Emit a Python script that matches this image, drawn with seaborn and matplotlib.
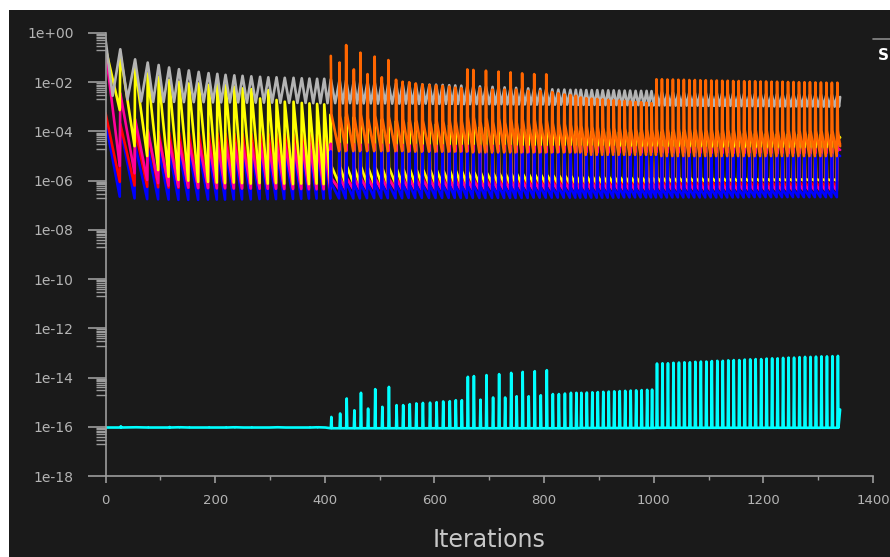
import matplotlib
matplotlib.use("Agg")
import matplotlib.pyplot as plt
from matplotlib.lines import Line2D
from matplotlib.patches import Rectangle
from matplotlib.ticker import FixedLocator, FixedFormatter, MultipleLocator, NullFormatter
import pandas as pd
import seaborn as sns

# first inner iteration of every time step
step_start = [
    0, 27, 54, 77, 97, 116, 134, 152, 170, 188, 204, 219, 235, 250, 266, 282, 297, 312, 327, 343, 358, 372, 386, 399,
    411, 427, 439, 453, 465, 478, 491, 504, 516, 530, 542, 554, 566, 578, 591, 603, 615, 627, 638, 649,
    660, 671, 683, 694, 706, 717, 728, 739, 749, 760, 771, 782, 793, 804, 815, 826, 837, 848, 858,
    867, 877, 887, 897, 907, 917, 927, 937, 947, 957, 967, 977, 987, 996,
    1005, 1015, 1025, 1035, 1045, 1055, 1065, 1075, 1085, 1095, 1105, 1115, 1125, 1135, 1145, 1155, 1165,
    1175, 1185, 1195, 1205, 1215, 1225, 1235, 1245, 1255, 1265, 1275, 1285, 1295, 1305, 1315, 1325, 1335,
]
last_iter = 1340
spiky_from = 24  # from iteration 411 on: orange appears, residuals spike then settle

# iteration where the grey residual bottoms out inside each step
grey_low_iter = [
    13, 40, 65, 87, 106, 125, 143, 161, 179, 196, 211, 227, 242, 258, 274, 289, 304, 319, 335, 350, 365, 379, 392, 405,
    419, 433, 446, 459, 471, 484, 497, 510, 523, 536, 548, 560, 572, 584, 597, 609, 621, 632, 643, 654,
    665, 677, 688, 700, 711, 722, 733, 744, 754, 765, 776, 787, 798, 809, 820, 831, 842, 853, 862,
    872, 882, 892, 902, 912, 922, 932, 942, 952, 962, 972, 982, 991, 1000,
    1010, 1020, 1030, 1040, 1050, 1060, 1070, 1080, 1090, 1100, 1110, 1120, 1130, 1140, 1150, 1160, 1170,
    1180, 1190, 1200, 1210, 1220, 1230, 1240, 1250, 1260, 1270, 1280, 1290, 1300, 1310, 1320, 1330, 1338,
]

# residuals as log10 exponents: at the step start (hi), one iteration later (knee), at the step end (lo)
grey_hi = [
    -0.25, -0.66, -1.07, -1.20, -1.30, -1.40, -1.47, -1.52, -1.58, -1.63, -1.66, -1.70, -1.72, -1.74, -1.76, -1.78,
    -1.80, -1.80, -1.82, -1.82, -1.84, -1.85, -1.86, -1.86,
    -1.88, -1.90, -1.92, -1.94, -1.96, -1.98, -2.00, -2.02, -2.04, -2.05, -2.06, -2.07, -2.08, -2.09, -2.10, -2.10,
    -2.11, -2.12, -2.13, -2.14,
    -2.15, -2.16, -2.17, -2.18, -2.19, -2.20, -2.21, -2.22, -2.23, -2.24, -2.25, -2.26, -2.27, -2.28, -2.29, -2.30,
    -2.30, -2.31, -2.31,
    -2.31, -2.32, -2.32, -2.32, -2.33, -2.33, -2.33, -2.34, -2.34, -2.34, -2.35, -2.35, -2.35, -2.36,
    -2.40, -2.40, -2.41, -2.41, -2.42, -2.42, -2.42, -2.43, -2.43, -2.43, -2.44, -2.44, -2.44, -2.45, -2.45, -2.45,
    -2.46, -2.46, -2.46, -2.47, -2.47, -2.47, -2.48, -2.48, -2.48, -2.49, -2.49, -2.49, -2.50, -2.50, -2.50, -2.50,
    -2.51, -2.51,
]
grey_lo = [
    -2.55, -2.70, -2.78, -2.80, -2.80, -2.80, -2.81, -2.81, -2.81, -2.82, -2.82, -2.82, -2.82, -2.83, -2.83, -2.83,
    -2.83, -2.84, -2.84, -2.84, -2.84, -2.85, -2.85, -2.85,
    -2.85, -2.86, -2.85, -2.86, -2.86, -2.86, -2.87, -2.86, -2.87, -2.87, -2.87, -2.87, -2.88, -2.87, -2.88, -2.88,
    -2.88, -2.88, -2.88, -2.89,
    -2.89, -2.89, -2.89, -2.89, -2.90, -2.89, -2.90, -2.90, -2.90, -2.90, -2.90, -2.91, -2.90, -2.91, -2.91, -2.91,
    -2.91, -2.91, -2.92,
    -2.92, -2.92, -2.92, -2.92, -2.93, -2.92, -2.93, -2.93, -2.93, -2.93, -2.93, -2.93, -2.94, -2.94,
    -2.94, -2.94, -2.94, -2.95, -2.95, -2.95, -2.95, -2.95, -2.96, -2.96, -2.96, -2.96, -2.96, -2.96, -2.97, -2.97,
    -2.97, -2.97, -2.97, -2.97, -2.97, -2.98, -2.98, -2.98, -2.98, -2.98, -2.98, -2.98, -2.98, -2.99, -2.99, -2.99,
    -2.99, -2.99,
]
grey_end = -2.60

yellow_hi = [
    -0.60, -0.83, -1.37, -1.64, -1.78, -1.91, -1.98, -2.05, -2.05, -2.11, -2.05, -2.11, -2.18, -2.25, -2.28, -2.66,
    -2.32, -2.72, -2.79, -2.79, -2.84, -2.86, -2.88, -2.90,
    -3.30, -3.35, -3.40, -3.42, -3.45, -3.48, -3.50, -3.52, -3.55, -3.57, -3.60, -3.62, -3.64, -3.66, -3.68, -3.70,
    -3.72, -3.74, -3.76, -3.78,
    -3.80, -3.81, -3.82, -3.83, -3.84, -3.85, -3.86, -3.87, -3.88, -3.89, -3.90, -3.91, -3.92, -3.93, -3.94, -3.95,
    -3.96, -3.97, -3.98,
    -3.98, -3.99, -3.99, -4.00, -4.00, -4.01, -4.01, -4.02, -4.02, -4.03, -4.03, -4.04, -4.04, -4.05,
    -4.00, -4.01, -4.01, -4.02, -4.02, -4.03, -4.03, -4.04, -4.04, -4.05, -4.05, -4.06, -4.06, -4.07, -4.07, -4.08,
    -4.08, -4.08, -4.09, -4.09, -4.09, -4.10, -4.10, -4.10, -4.10, -4.11, -4.11, -4.11, -4.11, -4.12, -4.12, -4.12,
    -4.12, -4.00,
]
yellow_knee = [
    -5.40, -5.42, -5.40, -5.45, -5.42, -5.46, -5.44, -5.48, -5.46, -5.50, -5.50, -5.52, -5.52, -5.53, -5.54, -5.55,
    -5.56, -5.57, -5.58, -5.60,
    -5.62, -5.63, -5.64, -5.65, -5.66, -5.67, -5.68, -5.69, -5.70, -5.71, -5.72, -5.73, -5.74, -5.75, -5.76, -5.77,
    -5.78, -5.79, -5.80,
    -5.80, -5.81, -5.81, -5.82, -5.82, -5.83, -5.83, -5.84, -5.84, -5.85, -5.85, -5.85, -5.86, -5.86,
    -5.86, -5.86, -5.87, -5.87, -5.87, -5.88, -5.88, -5.88, -5.88, -5.89, -5.89, -5.89, -5.89, -5.90, -5.90, -5.90,
    -5.90, -5.90, -5.91, -5.91, -5.91, -5.91, -5.91, -5.92, -5.92, -5.92, -5.92, -5.92, -5.92, -5.93, -5.93, -5.93,
    -5.93, -4.15,
]
yellow_lo = [
    -3.13, -4.60, -5.00, -5.57, -5.84, -5.97, -6.00, -6.05, -6.05, -6.08, -6.10, -6.08, -6.10, -6.12, -6.10, -6.12,
    -6.10, -6.12, -6.14, -6.12, -6.14, -6.12, -6.14, -6.15,
    -6.12, -6.14, -6.10, -6.15, -6.12, -6.14, -6.12, -6.15, -6.12, -6.14, -6.13, -6.14, -6.12, -6.14, -6.13, -6.14,
    -6.12, -6.14, -6.13, -6.14,
    -6.10, -6.12, -6.14, -6.10, -6.13, -6.10, -6.13, -6.10, -6.13, -6.10, -6.13, -6.10, -6.13, -6.10, -6.12, -6.12,
    -6.12, -6.12, -6.12,
    -6.12, -6.12, -6.12, -6.11, -6.11, -6.11, -6.11, -6.10, -6.10, -6.10, -6.10, -6.10, -6.10, -6.10,
    -6.08, -6.08, -6.08, -6.07, -6.07, -6.07, -6.06, -6.06, -6.06, -6.05, -6.05, -6.05, -6.04, -6.04, -6.04, -6.03,
    -6.03, -6.03, -6.02, -6.02, -6.02, -6.02, -6.01, -6.01, -6.01, -6.01, -6.00, -6.00, -6.00, -6.00, -6.00, -6.00,
    -6.00, -4.25,
]

magenta_hi = [
    -0.70, -2.45, -3.50, -3.94, -4.20, -4.35, -4.40, -4.40, -4.42, -4.42, -4.45, -4.45, -4.46, -4.46, -4.47, -4.47,
    -4.48, -4.48, -4.48, -4.49, -4.49, -4.49, -4.50, -4.50,
    -4.50, -4.50, -4.51, -4.51, -4.52, -4.52, -4.52, -4.53, -4.53, -4.53, -4.54, -4.54, -4.54, -4.55, -4.55, -4.55,
    -4.55, -4.56, -4.56, -4.56,
    -4.56, -4.57, -4.57, -4.57, -4.57, -4.58, -4.58, -4.58, -4.58, -4.59, -4.59, -4.59, -4.59, -4.60, -4.60, -4.60,
    -4.60, -4.60, -4.61,
    -4.61, -4.61, -4.61, -4.62, -4.62, -4.62, -4.62, -4.63, -4.63, -4.63, -4.63, -4.64, -4.64, -4.64,
    -4.64, -4.64, -4.65, -4.65, -4.65, -4.65, -4.66, -4.66, -4.66, -4.66, -4.67, -4.67, -4.67, -4.67, -4.67, -4.68,
    -4.68, -4.68, -4.68, -4.68, -4.69, -4.69, -4.69, -4.69, -4.69, -4.69, -4.70, -4.70, -4.70, -4.70, -4.70, -4.70,
    -4.70, -4.60,
]
magenta_knee = [
    -5.90, -5.92, -5.90, -5.93, -5.92, -5.94, -5.93, -5.95, -5.94, -5.96, -5.96, -5.97, -5.97, -5.98, -5.98, -5.99,
    -5.99, -6.00, -6.00, -6.00,
    -6.01, -6.01, -6.02, -6.02, -6.03, -6.03, -6.04, -6.04, -6.05, -6.05, -6.06, -6.06, -6.07, -6.07, -6.08, -6.08,
    -6.09, -6.09, -6.10,
    -6.10, -6.10, -6.11, -6.11, -6.11, -6.12, -6.12, -6.12, -6.13, -6.13, -6.13, -6.14, -6.14, -6.14,
    -6.14, -6.14, -6.14, -6.15, -6.15, -6.15, -6.15, -6.15, -6.16, -6.16, -6.16, -6.16, -6.16, -6.16, -6.17, -6.17,
    -6.17, -6.17, -6.17, -6.17, -6.17, -6.18, -6.18, -6.18, -6.18, -6.18, -6.18, -6.18, -6.18, -6.18, -6.18, -6.18,
    -6.18, -4.70,
]
magenta_lo = [
    -5.40, -5.70, -5.97, -6.10, -6.20, -6.25, -6.28, -6.30, -6.30, -6.31, -6.31, -6.32, -6.32, -6.32, -6.33, -6.33,
    -6.33, -6.34, -6.34, -6.34, -6.35, -6.35, -6.35, -6.35,
    -6.35, -6.36, -6.35, -6.36, -6.36, -6.35, -6.36, -6.36, -6.36, -6.36, -6.37, -6.36, -6.37, -6.37, -6.37, -6.37,
    -6.37, -6.37, -6.37, -6.37,
    -6.37, -6.37, -6.38, -6.37, -6.38, -6.37, -6.38, -6.37, -6.38, -6.37, -6.38, -6.38, -6.38, -6.38, -6.38, -6.38,
    -6.38, -6.38, -6.38,
    -6.38, -6.38, -6.38, -6.38, -6.38, -6.38, -6.38, -6.39, -6.39, -6.39, -6.39, -6.39, -6.39, -6.39,
    -6.39, -6.39, -6.39, -6.39, -6.39, -6.39, -6.39, -6.39, -6.40, -6.40, -6.40, -6.40, -6.40, -6.40, -6.40, -6.40,
    -6.40, -6.40, -6.40, -6.40, -6.40, -6.40, -6.40, -6.40, -6.40, -6.40, -6.40, -6.40, -6.40, -6.40, -6.40, -6.40,
    -6.40, -4.75,
]

blue_hi = [
    -3.60, -3.85, -4.55, -4.65, -4.70, -4.72, -4.74, -4.75, -4.75, -4.76, -4.76, -4.77, -4.77, -4.78, -4.78, -4.78,
    -4.79, -4.79, -4.79, -4.80, -4.80, -4.80, -4.80, -4.81,
    -4.81, -4.81, -4.82, -4.82, -4.82, -4.83, -4.83, -4.83, -4.84, -4.84, -4.84, -4.85, -4.85, -4.85, -4.85, -4.86,
    -4.86, -4.86, -4.86, -4.86,
    -4.86, -4.87, -4.87, -4.87, -4.87, -4.87, -4.88, -4.88, -4.88, -4.88, -4.88, -4.88, -4.89, -4.89, -4.89, -4.89,
    -4.89, -4.89, -4.89,
    -4.89, -4.89, -4.90, -4.90, -4.90, -4.90, -4.90, -4.90, -4.90, -4.90, -4.90, -4.90, -4.90, -4.90,
    -4.90, -4.90, -4.91, -4.91, -4.91, -4.91, -4.91, -4.91, -4.91, -4.91, -4.92, -4.92, -4.92, -4.92, -4.92, -4.92,
    -4.92, -4.92, -4.92, -4.92, -4.93, -4.93, -4.93, -4.93, -4.93, -4.93, -4.93, -4.93, -4.93, -4.93, -4.93, -4.93,
    -4.93, -4.85,
]
blue_knee = [
    -6.10, -6.12, -6.10, -6.13, -6.12, -6.14, -6.13, -6.15, -6.14, -6.16, -6.16, -6.17, -6.17, -6.18, -6.18, -6.19,
    -6.19, -6.20, -6.20, -6.20,
    -6.21, -6.21, -6.22, -6.22, -6.23, -6.23, -6.24, -6.24, -6.25, -6.25, -6.26, -6.26, -6.27, -6.27, -6.28, -6.28,
    -6.29, -6.29, -6.30,
    -6.30, -6.30, -6.31, -6.31, -6.31, -6.32, -6.32, -6.32, -6.33, -6.33, -6.33, -6.34, -6.34, -6.34,
    -6.34, -6.34, -6.34, -6.35, -6.35, -6.35, -6.35, -6.35, -6.36, -6.36, -6.36, -6.36, -6.36, -6.36, -6.37, -6.37,
    -6.37, -6.37, -6.37, -6.37, -6.37, -6.38, -6.38, -6.38, -6.38, -6.38, -6.38, -6.38, -6.38, -6.38, -6.38, -6.38,
    -6.38, -4.95,
]
blue_lo = [
    -6.65, -6.72, -6.75, -6.76, -6.77, -6.78, -6.78, -6.78, -6.77, -6.77, -6.77, -6.76, -6.76, -6.76, -6.75, -6.75,
    -6.75, -6.74, -6.74, -6.74, -6.73, -6.73, -6.73, -6.72,
    -6.72, -6.72, -6.72, -6.72, -6.71, -6.71, -6.71, -6.71, -6.71, -6.71, -6.70, -6.70, -6.70, -6.70, -6.70, -6.70,
    -6.70, -6.70, -6.70, -6.70,
    -6.70, -6.70, -6.70, -6.70, -6.70, -6.70, -6.70, -6.70, -6.70, -6.70, -6.69, -6.69, -6.69, -6.69, -6.69, -6.69,
    -6.69, -6.69, -6.69,
    -6.69, -6.69, -6.69, -6.69, -6.69, -6.69, -6.69, -6.68, -6.68, -6.68, -6.68, -6.68, -6.68, -6.68,
    -6.68, -6.68, -6.68, -6.68, -6.68, -6.68, -6.68, -6.68, -6.68, -6.68, -6.68, -6.68, -6.68, -6.68, -6.68, -6.68,
    -6.67, -6.67, -6.67, -6.67, -6.67, -6.67, -6.67, -6.67, -6.67, -6.67, -6.67, -6.67, -6.67, -6.67, -6.67, -6.67,
    -6.67, -5.00,
]

red_hi = [
    -3.25, -3.70, -3.90, -4.00, -4.02, -4.04, -4.05, -4.06, -4.07, -4.08, -4.08, -4.09, -4.09, -4.10, -4.10, -4.10,
    -4.11, -4.11, -4.11, -4.12, -4.12, -4.12, -4.12, -4.13,
    -4.13, -4.13, -4.14, -4.14, -4.14, -4.15, -4.15, -4.15, -4.15, -4.16, -4.16, -4.16, -4.16, -4.17, -4.17, -4.17,
    -4.17, -4.17, -4.18, -4.18,
    -4.18, -4.18, -4.18, -4.18, -4.19, -4.19, -4.19, -4.19, -4.19, -4.20, -4.20, -4.20, -4.20, -4.20, -4.20, -4.20,
    -4.20, -4.20, -4.20,
    -4.20, -4.20, -4.20, -4.20, -4.20, -4.20, -4.21, -4.21, -4.21, -4.21, -4.21, -4.21, -4.21, -4.21,
    -4.21, -4.21, -4.21, -4.21, -4.21, -4.21, -4.21, -4.21, -4.21, -4.21, -4.22, -4.22, -4.22, -4.22, -4.22, -4.22,
    -4.22, -4.22, -4.22, -4.22, -4.22, -4.22, -4.23, -4.23, -4.23, -4.23, -4.23, -4.23, -4.23, -4.23, -4.23, -4.23,
    -4.23, -4.20,
]
red_knee = [
    -5.90, -5.90, -5.90, -5.90, -5.90, -5.90, -5.90, -5.90, -5.90, -5.90, -5.92, -5.92, -5.92, -5.92, -5.92, -5.92,
    -5.92, -5.92, -5.92, -5.92,
    -5.95, -5.95, -5.95, -5.95, -5.95, -5.95, -5.95, -5.95, -5.95, -5.95, -5.97, -5.97, -5.97, -5.97, -5.97, -5.97,
    -5.97, -5.97, -5.97,
    -6.00, -6.00, -6.00, -6.00, -6.00, -6.00, -6.00, -6.00, -6.00, -6.00, -6.00, -6.00, -6.00, -6.00,
    -6.02, -6.02, -6.02, -6.02, -6.02, -6.02, -6.02, -6.02, -6.02, -6.02, -6.02, -6.02, -6.02, -6.02, -6.02, -6.02,
    -6.04, -6.04, -6.04, -6.04, -6.04, -6.04, -6.04, -6.04, -6.04, -6.04, -6.04, -6.04, -6.04, -6.04, -6.04, -6.04,
    -6.04, -4.35,
]
red_lo = [
    -6.05, -6.20, -6.25, -6.27, -6.28, -6.29, -6.29, -6.30, -6.30, -6.30, -6.30, -6.30, -6.30, -6.30, -6.30, -6.30,
    -6.30, -6.30, -6.30, -6.30, -6.30, -6.30, -6.30, -6.30,
    -6.30, -6.30, -6.30, -6.30, -6.30, -6.30, -6.30, -6.30, -6.30, -6.30, -6.30, -6.30, -6.30, -6.30, -6.30, -6.30,
    -6.30, -6.30, -6.30, -6.30,
    -6.30, -6.30, -6.30, -6.30, -6.30, -6.30, -6.30, -6.30, -6.30, -6.30, -6.31, -6.31, -6.31, -6.31, -6.31, -6.31,
    -6.31, -6.31, -6.31,
    -6.31, -6.31, -6.31, -6.31, -6.31, -6.31, -6.31, -6.31, -6.31, -6.31, -6.31, -6.31, -6.31, -6.31,
    -6.31, -6.31, -6.31, -6.31, -6.31, -6.31, -6.31, -6.31, -6.31, -6.31, -6.31, -6.31, -6.31, -6.31, -6.31, -6.31,
    -6.32, -6.32, -6.32, -6.32, -6.32, -6.32, -6.32, -6.32, -6.32, -6.32, -6.32, -6.32, -6.32, -6.32, -6.32, -6.32,
    -6.32, -4.50,
]

# orange only exists from iteration 411 on
orange_hi = [
    -0.93, -1.20, -0.49, -1.48, -0.80, -1.67, -0.96, -1.80, -1.10, -1.90, -1.98, -2.00, -2.05, -2.09, -2.11, -2.13,
    -2.15, -2.18, -2.22, -2.24,
    -1.48, -1.50, -2.24, -1.53, -2.30, -1.57, -2.30, -1.60, -2.30, -1.64, -2.35, -1.67, -2.35, -1.68, -2.40, -2.45,
    -2.50, -2.52, -2.55,
    -2.62, -2.65, -2.67, -2.68, -2.70, -2.72, -2.73, -2.75, -2.76, -2.78, -2.80, -2.81, -2.83, -2.85,
    -1.88, -1.88, -1.89, -1.89, -1.90, -1.90, -1.91, -1.91, -1.92, -1.92, -1.93, -1.93, -1.94, -1.94, -1.95, -1.95,
    -1.96, -1.96, -1.96, -1.97, -1.97, -1.98, -1.98, -1.98, -1.99, -1.99, -2.00, -2.00, -2.00, -2.01, -2.01, -2.02,
    -2.02, -2.02,
]
orange_knee = [
    -3.30, -3.35, -3.25, -3.40, -3.30, -3.45, -3.35, -3.45, -3.40, -3.50, -3.50, -3.52, -3.52, -3.55, -3.55, -3.55,
    -3.57, -3.57, -3.58, -3.58,
    -3.40, -3.42, -3.60, -3.44, -3.60, -3.46, -3.62, -3.48, -3.62, -3.50, -3.64, -3.52, -3.64, -3.54, -3.66, -3.68,
    -3.70, -3.72, -3.74,
    -3.76, -3.78, -3.80, -3.82, -3.84, -3.85, -3.86, -3.87, -3.88, -3.89, -3.90, -3.90, -3.91, -3.92,
    -3.90, -3.90, -3.90, -3.90, -3.90, -3.90, -3.90, -3.90, -3.92, -3.92, -3.92, -3.92, -3.92, -3.92, -3.92, -3.92,
    -3.94, -3.94, -3.94, -3.94, -3.94, -3.94, -3.94, -3.94, -3.94, -3.96, -3.96, -3.96, -3.96, -3.96, -3.96, -3.96,
    -3.96, -3.96,
]
orange_lo = [
    -4.80, -4.80, -4.80, -4.80, -4.80, -4.80, -4.80, -4.80, -4.80, -4.80, -4.82, -4.82, -4.82, -4.82, -4.82, -4.82,
    -4.82, -4.82, -4.82, -4.82,
    -4.85, -4.85, -4.85, -4.85, -4.85, -4.85, -4.85, -4.85, -4.85, -4.85, -4.85, -4.85, -4.85, -4.85, -4.85, -4.85,
    -4.85, -4.85, -4.85,
    -4.95, -4.95, -4.95, -4.95, -4.95, -4.95, -4.95, -4.95, -4.95, -4.95, -4.95, -4.95, -4.95, -4.95,
    -5.00, -5.00, -5.00, -5.00, -5.00, -5.00, -5.00, -5.00, -5.00, -5.00, -5.00, -5.00, -5.00, -5.00, -5.00, -5.00,
    -5.00, -5.00, -5.00, -5.00, -5.00, -5.00, -5.00, -5.00, -5.00, -5.00, -5.00, -5.00, -5.00, -5.00, -5.00, -5.00,
    -5.00, -4.60,
]

# cyan: narrow spike one iteration after the step start, otherwise sits near 1e-16
cyan_hi = [
    -16.02, -15.98, -16.02, -16.02, -16.03, -16.01, -16.03, -16.02, -16.03, -16.02, -16.03, -16.02, -16.03, -16.03,
    -16.02, -16.03, -16.03, -16.02, -16.03, -16.03, -16.03, -16.02, -16.03, -16.03,
    -15.60, -15.46, -14.85, -15.33, -14.62, -15.26, -14.47, -15.19, -14.38, -15.12, -15.12, -15.08, -15.05, -15.03,
    -15.02, -15.00, -14.97, -14.96, -14.92, -14.92,
    -13.97, -13.94, -14.90, -13.90, -14.81, -13.86, -14.81, -13.81, -14.76, -13.77, -14.76, -13.74, -14.72, -13.70,
    -14.67, -14.67, -14.65, -14.62, -14.62,
    -14.62, -14.61, -14.60, -14.59, -14.58, -14.57, -14.56, -14.55, -14.54, -14.53, -14.52, -14.51, -14.50, -14.49,
    -13.43, -13.42, -13.42, -13.40, -13.39, -13.38, -13.38, -13.36, -13.35, -13.35, -13.33, -13.32, -13.32, -13.30,
    -13.29, -13.29, -13.27, -13.26, -13.25, -13.25, -13.23, -13.22, -13.22, -13.20, -13.19, -13.19, -13.17, -13.16,
    -13.16, -13.15, -13.14, -13.14, -13.13, -13.12,
]
cyan_lo = [
    -16.03, -16.03, -16.02, -16.03, -16.03, -16.03, -16.02, -16.03, -16.03, -16.03, -16.03, -16.03, -16.02, -16.03,
    -16.03, -16.03, -16.03, -16.02, -16.03, -16.03, -16.03, -16.03, -16.02, -16.03,
    -16.06, -16.06, -16.06, -16.06, -16.06, -16.06, -16.06, -16.06, -16.06, -16.06, -16.06, -16.06, -16.06, -16.06,
    -16.06, -16.06, -16.06, -16.06, -16.06, -16.06,
    -16.06, -16.06, -16.06, -16.06, -16.06, -16.06, -16.06, -16.06, -16.06, -16.06, -16.06, -16.06, -16.06, -16.06,
    -16.06, -16.06, -16.06, -16.06, -16.06,
    -16.05, -16.05, -16.05, -16.05, -16.05, -16.05, -16.05, -16.05, -16.05, -16.05, -16.05, -16.05, -16.05, -16.05,
    -16.04, -16.04, -16.04, -16.04, -16.04, -16.04, -16.04, -16.04, -16.04, -16.04, -16.04, -16.04, -16.04, -16.04,
    -16.04, -16.04, -16.04, -16.04, -16.04, -16.04, -16.04, -16.04, -16.04, -16.04, -16.04, -16.04, -16.04, -16.04,
    -16.04, -16.04, -16.04, -16.04, -16.04, -16.04,
]
cyan_end = -15.30

ytick_values = [1e0, 1e-2, 1e-4, 1e-6, 1e-8, 1e-10, 1e-12, 1e-14, 1e-16, 1e-18]
ytick_labels = ["1e+00", "1e-02", "1e-04", "1e-06", "1e-08", "1e-10", "1e-12", "1e-14", "1e-16", "1e-18"]

series_colors = {
    "Tdr": "#00ffff",
    "Z-momentum": "#ff0000",
    "Y-momentum": "#0000ff",
    "X-momentum": "#ff0099",
    "Continuity": "#b4b4b4",
    "Energy": "#ffff00",
    "Tke": "#ff6600",
}

n_steps = len(step_start)
for values in (grey_low_iter, grey_hi, grey_lo, yellow_hi, yellow_lo, magenta_hi, magenta_lo,
               blue_hi, blue_lo, red_hi, red_lo, cyan_hi, cyan_lo):
    assert len(values) == n_steps, len(values)
for values in (orange_hi, orange_knee, orange_lo, yellow_knee, magenta_knee, blue_knee, red_knee):
    assert len(values) == n_steps - spiky_from, len(values)

step_end = [nxt - 1 for nxt in step_start[1:]] + [last_iter]

rows = []


def add_points(name, phase, xs, exps):
    for x, e in zip(xs, exps):
        rows.append({"series": name, "phase": phase, "iteration": x, "residual": 10.0 ** e})


def residual_line(name, hi, lo, knee, first=0):
    """Sawtooth per step; from `spiky_from` on the drop after the jump is split at the knee."""
    early_x, early_y, late_x, late_y = [], [], [], []
    for i in range(first, n_steps):
        h, l = hi[i - first], lo[i - first]
        s, e = step_start[i], step_end[i]
        if i >= spiky_from:
            if i == spiky_from and early_x:
                # keep the two phases joined
                late_x.append(early_x[-1])
                late_y.append(early_y[-1])
            late_x += [s, s + 1, e]
            late_y += [h, knee[i - spiky_from], l]
        else:
            early_x += [s, e]
            early_y += [h, l]
    add_points(name, "early", early_x, early_y)
    add_points(name, "late", late_x, late_y)


residual_line("Z-momentum", red_hi, red_lo, red_knee)
residual_line("Energy", yellow_hi, yellow_lo, yellow_knee)
residual_line("X-momentum", magenta_hi, magenta_lo, magenta_knee)
residual_line("Y-momentum", blue_hi, blue_lo, blue_knee)
residual_line("Tke", orange_hi, orange_lo, orange_knee, first=spiky_from)

xs, ys = [], []
for s, m, h, l in zip(step_start, grey_low_iter, grey_hi, grey_lo):
    xs += [s, m]
    ys += [h, l]
add_points("Continuity", "late", xs + [last_iter], ys + [grey_end])

xs, ys = [], []
for s, h, l in zip(step_start, cyan_hi, cyan_lo):
    xs += [s, s + 1, s + 2]
    ys += [l, h, l]
add_points("Tdr", "late", xs + [last_iter], ys + [cyan_end])

df = pd.DataFrame(rows)

bg = "#1a1a1a"
axis_grey = "#9c9c9c"
label_grey = "#b4b4b4"

sns.set_style("dark")
plt.rcParams["font.family"] = ["DejaVu Sans"]

fig = plt.figure(figsize=(8.9, 5.57), dpi=100, facecolor="white")
fig.patches.append(Rectangle((9 / 890, 0), 1, 1 - 10 / 557, transform=fig.transFigure,
                             facecolor=bg, edgecolor="none", zorder=-5))
ax = fig.add_axes([105.5 / 890, 1 - 476 / 557, (873 - 105.5) / 890, (476 - 33) / 557])
ax.set_facecolor(bg)
ax.set_yscale("log")

# drawing order differs between the two phases: later series sit on top
early_order = ["Y-momentum", "Z-momentum", "X-momentum", "Energy"]
late_order = ["Tdr", "Z-momentum", "Energy", "X-momentum", "Y-momentum", "Continuity", "Tke"]
for phase, order in (("early", early_order), ("late", late_order)):
    sns.lineplot(
        data=df[df["phase"] == phase], x="iteration", y="residual", hue="series", hue_order=order,
        palette=series_colors, estimator=None, sort=False, legend=False,
        linewidth=1.9, ax=ax,
    )

ax.set_xlim(0, 1400)
ax.set_ylim(1e-18, 1e0)
ax.grid(False)

ax.yaxis.set_major_locator(FixedLocator(ytick_values))
ax.yaxis.set_major_formatter(FixedFormatter(ytick_labels))
ax.yaxis.set_minor_locator(FixedLocator([m * 10.0 ** e for e in range(-17, 0, 2) for m in range(2, 10)]))
ax.yaxis.set_minor_formatter(NullFormatter())
ax.xaxis.set_major_locator(MultipleLocator(200))
ax.xaxis.set_minor_locator(MultipleLocator(100))

ax.tick_params(axis="y", which="major", length=13, width=1.2, color=axis_grey,
               labelcolor=label_grey, labelsize=10, pad=10, direction="out", left=True)
ax.tick_params(axis="y", which="minor", length=7, width=1.0, color=axis_grey, direction="out", left=True)
ax.tick_params(axis="x", which="major", length=5, width=1.2, color=axis_grey,
               labelcolor=label_grey, labelsize=9.5, pad=8, direction="out", bottom=True)
ax.tick_params(axis="x", which="minor", length=3, width=1.0, color=axis_grey, direction="out", bottom=True)

for side in ("top", "right"):
    ax.spines[side].set_visible(False)
for side in ("left", "bottom"):
    ax.spines[side].set_visible(True)
    ax.spines[side].set_color(axis_grey)
    ax.spines[side].set_linewidth(1.2)

ax.set_ylabel("")
ax.set_xlabel("Iterations", color="#c8c8c8", fontsize=17, labelpad=15)

# edge of the legend box that is cut off on the right
fig.add_artist(Line2D([873 / 890, 1.0], [1 - 39 / 557, 1 - 39 / 557], color="#8a8a8a", lw=1.2))
fig.text(889 / 890, 1 - 55 / 557, "S", color="white", fontsize=11, fontweight="bold", va="center", ha="right")

fig.savefig("out.png", dpi=100, facecolor=fig.get_facecolor())
